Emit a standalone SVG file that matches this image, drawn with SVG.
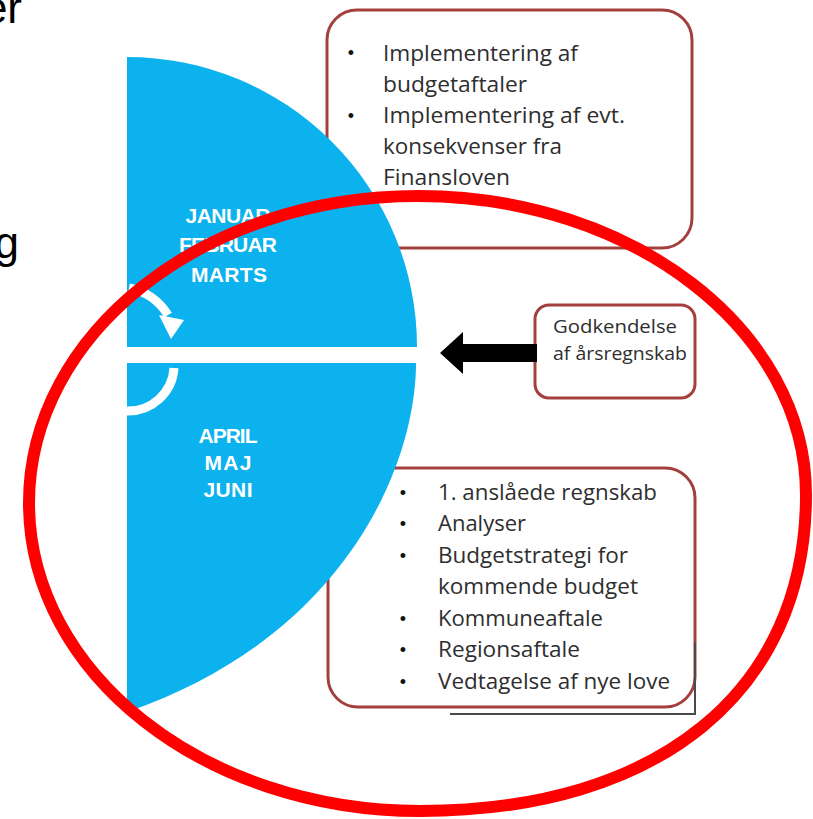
<svg xmlns="http://www.w3.org/2000/svg" width="813" height="819" viewBox="0 0 813 819">
<style>
.box{fill:#ffffff;stroke:#a3403d;stroke-width:3}
.bt{font-family:"Open Sans","Liberation Sans",sans-serif;font-size:22px;fill:#2e2e2e}
.bt2{font-family:"Open Sans","Liberation Sans",sans-serif;font-size:19px;fill:#2e2e2e}
.bul{font-family:"Liberation Sans",sans-serif;font-size:18px;fill:#111;text-anchor:middle}
.mon{font-family:"Liberation Sans",sans-serif;font-weight:bold;font-size:21px;fill:#ffffff;text-anchor:middle}
.frag{font-family:"Liberation Sans",sans-serif;font-size:44px;fill:#000;text-anchor:end}
.blue{fill:#0cb2ee}
.warc{fill:none;stroke:#ffffff;stroke-width:9}
</style>
<rect width="813" height="819" fill="#ffffff"/>
<text class="frag" x="22" y="23">er</text>
<text class="frag" x="19" y="258">g</text>

<g id="box-top">
<rect class="box" x="327" y="10" width="365" height="238" rx="30"/>
<text class="bul" x="351" y="59">•</text>
<text class="bt" x="383" y="61" textLength="195" lengthAdjust="spacingAndGlyphs">Implementering af</text>
<text class="bt" x="383" y="92" textLength="144" lengthAdjust="spacingAndGlyphs">budgetaftaler</text>
<text class="bul" x="351" y="122">•</text>
<text class="bt" x="383" y="123" textLength="242" lengthAdjust="spacingAndGlyphs">Implementering af evt.</text>
<text class="bt" x="383" y="154" textLength="179" lengthAdjust="spacingAndGlyphs">konsekvenser fra</text>
<text class="bt" x="383" y="185" textLength="127" lengthAdjust="spacingAndGlyphs">Finansloven</text>
</g>

<g id="box-bottom">
<rect class="box" x="328" y="468" width="367" height="239" rx="30"/>
<polyline points="450,714 695,714 695,643" fill="none" stroke="#4a4a4a" stroke-width="2"/>
<text class="bul" x="403" y="499">•</text>
<text class="bt" x="438" y="500" textLength="219" lengthAdjust="spacingAndGlyphs">1. anslåede regnskab</text>
<text class="bul" x="403" y="530">•</text>
<text class="bt" x="438" y="531" textLength="88" lengthAdjust="spacingAndGlyphs">Analyser</text>
<text class="bul" x="403" y="562">•</text>
<text class="bt" x="438" y="563" textLength="190" lengthAdjust="spacingAndGlyphs">Budgetstrategi for</text>
<text class="bt" x="438" y="594" textLength="200" lengthAdjust="spacingAndGlyphs">kommende budget</text>
<text class="bul" x="403" y="625">•</text>
<text class="bt" x="438" y="626" textLength="165" lengthAdjust="spacingAndGlyphs">Kommuneaftale</text>
<text class="bul" x="403" y="656">•</text>
<text class="bt" x="438" y="657" textLength="142" lengthAdjust="spacingAndGlyphs">Regionsaftale</text>
<text class="bul" x="403" y="688">•</text>
<text class="bt" x="438" y="689" textLength="232" lengthAdjust="spacingAndGlyphs">Vedtagelse af nye love</text>
</g>

<g id="box-godkendelse">
<rect class="box" x="535" y="305" width="160" height="93" rx="14"/>
<text class="bt2" x="553" y="333" textLength="124" lengthAdjust="spacingAndGlyphs">Godkendelse</text>
<text class="bt2" x="553" y="360" textLength="134" lengthAdjust="spacingAndGlyphs">af årsregnskab</text>
</g>

<g id="q1-jan-mar">
<path class="blue" d="M127,57 A290,290 0 0 1 417,347 L127,347 Z"/>
<text class="mon" x="228" y="223" textLength="85">JANUAR</text>
<text class="mon" x="228" y="252" textLength="98">FEBRUAR</text>
<text class="mon" x="229" y="282" textLength="76">MARTS</text>
</g>

<g id="q2-apr-jun">
<path class="blue" d="M127,363 L416,363 C416,460 350,635 127,712 Z"/>
<text class="mon" x="228" y="443" textLength="59">APRIL</text>
<text class="mon" x="228" y="470" textLength="47">MAJ</text>
<text class="mon" x="228" y="497" textLength="49">JUNI</text>
</g>

<g id="connectors">
<path class="warc" d="M129,288 A58,58 0 0 1 168,315"/>
<polygon points="159,315 184,320 171,339" fill="#ffffff"/>
<path class="warc" d="M174,368 A46,46 0 0 1 127,411"/>
<polygon points="440,353 463,332 463,344 537,344 537,362 463,362 463,374" fill="#000000"/>
</g>

<g id="highlight">
<path d="M29,503 C29,334 203,196 418,196 C632,196 806,330 806,495 C806,691 659,811 420,811 C204,811 29,673 29,503 Z" fill="none" stroke="#ff0000" stroke-width="12"/>
</g>
</svg>
